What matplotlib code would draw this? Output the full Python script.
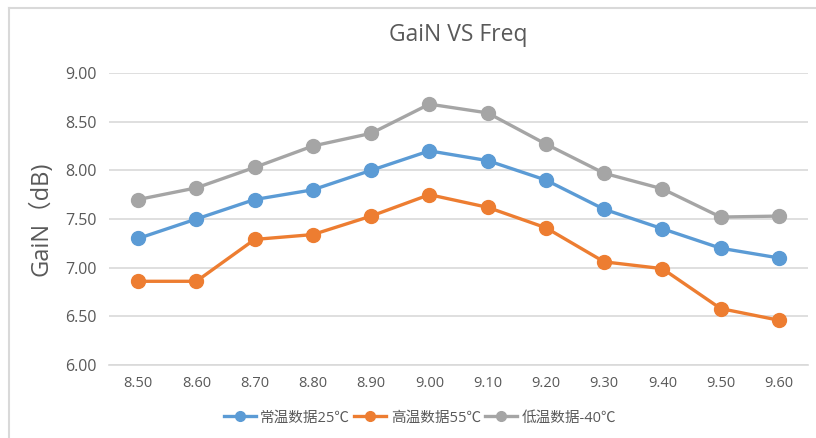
import matplotlib
matplotlib.use("Agg")
import matplotlib.pyplot as plt
from matplotlib.lines import Line2D

plt.rcParams['font.family'] = ['Open Sans', 'Noto Sans CJK SC', 'DejaVu Sans']

freq_labels = ["8.50", "8.60", "8.70", "8.80", "8.90", "9.00",
               "9.10", "9.20", "9.30", "9.40", "9.50", "9.60"]
gain_25c = [7.30, 7.50, 7.70, 7.80, 8.00, 8.20, 8.10, 7.90, 7.60, 7.40, 7.20, 7.10]
gain_55c = [6.86, 6.86, 7.29, 7.34, 7.53, 7.75, 7.62, 7.41, 7.06, 6.99, 6.58, 6.46]
gain_m40c = [7.70, 7.82, 8.03, 8.25, 8.38, 8.68, 8.59, 8.27, 7.97, 7.81, 7.52, 7.53]

series_names = ["常温数据25℃", "高温数据55℃", "低温数据-40℃"]
colors = ["#5B9BD5", "#ED7D31", "#A5A5A5"]
text_color = "#595959"
grid_color = "#D9D9D9"

fig = plt.figure(figsize=(8.16, 4.38), dpi=100)
ax = fig.add_axes([109 / 816, 1 - 365 / 438, (808 - 109) / 816, (365 - 73) / 438])

x = list(range(len(freq_labels)))
for vals, name, c in zip([gain_25c, gain_55c, gain_m40c], series_names, colors):
    ax.plot(x, vals, color=c, lw=2.4, marker='o', markersize=10, label=name, zorder=3)

ax.set_xlim(-0.5, len(freq_labels) - 0.5)
ax.set_ylim(6.0, 9.0)
ax.set_yticks([6.0, 6.5, 7.0, 7.5, 8.0, 8.5, 9.0])
ax.set_yticklabels(["%.2f" % v for v in [6.0, 6.5, 7.0, 7.5, 8.0, 8.5, 9.0]])
ax.set_xticks(x)
ax.set_xticklabels(freq_labels)
ax.grid(axis='y', color=grid_color, lw=1.2)
ax.set_axisbelow(True)
for s in ["top", "right", "left"]:
    ax.spines[s].set_visible(False)
ax.spines["bottom"].set_color(grid_color)
ax.spines["bottom"].set_linewidth(1.2)
ax.tick_params(length=0, colors=text_color)
ax.tick_params(axis='y', pad=9, labelsize=11.5)
ax.tick_params(axis='x', pad=8, labelsize=10.5)

ax.set_ylabel("GaiN（dB)", fontsize=17, color=text_color, labelpad=8)
fig.text(458 / 816, 1 - 35 / 438, "GaiN VS Freq", fontsize=16.5, color=text_color,
         ha='center', va='center')

handles = [Line2D([], [], color=c, lw=2.4, marker='o', markersize=7) for c in colors]
fig.legend(handles, series_names, loc='center', bbox_to_anchor=(420 / 816, 1 - 418 / 438),
           ncol=3, frameon=False, fontsize=10.5, labelcolor=text_color,
           handlelength=2.2, handletextpad=0.3, columnspacing=0.3)

# chart area border (top and left edges visible)
fig.add_artist(Line2D([9 / 816, 9 / 816], [0, 1 - 8 / 438], transform=fig.transFigure,
                      color=grid_color, lw=1.5))
fig.add_artist(Line2D([9 / 816, 1], [1 - 8 / 438, 1 - 8 / 438], transform=fig.transFigure,
                      color=grid_color, lw=1.5))

fig.savefig("out.png", dpi=100)
